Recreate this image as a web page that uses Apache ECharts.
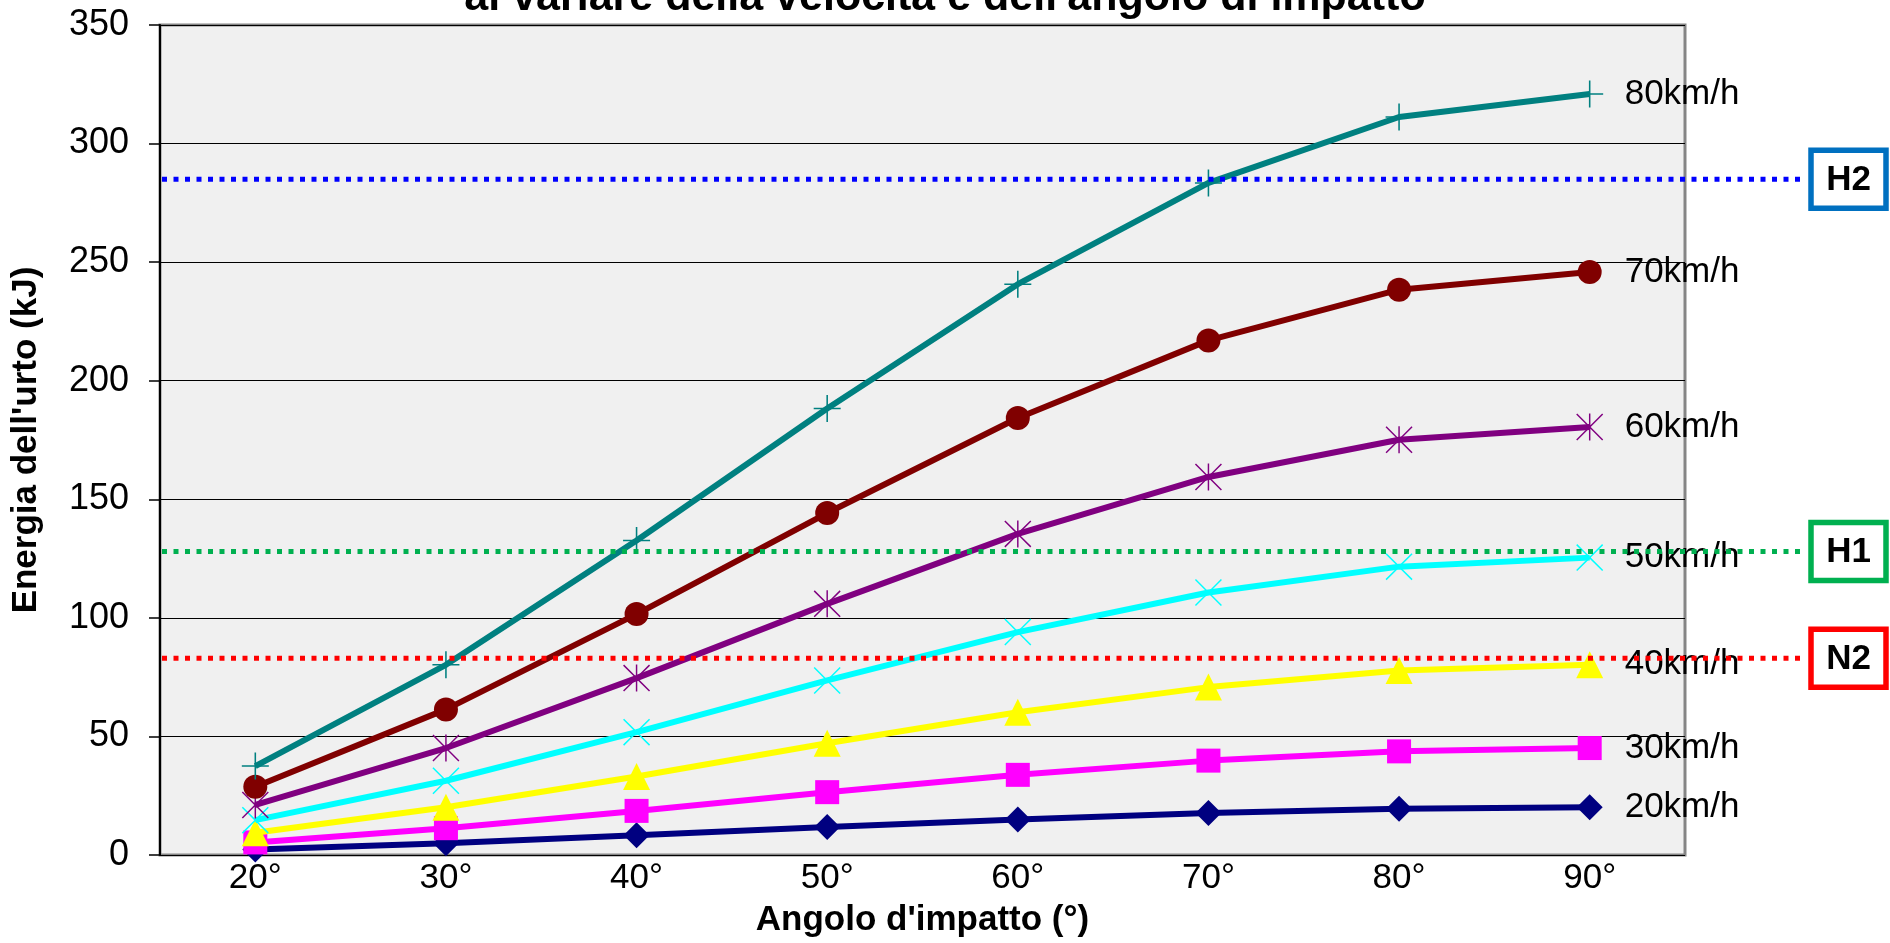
<!DOCTYPE html>
<html>
<head>
<meta charset="utf-8">
<title>Energia dell'urto</title>
<script src="https://cdn.jsdelivr.net/npm/echarts@6/dist/echarts.min.js"></script>
<style>
  html, body { margin: 0; padding: 0; background: #fff; }
  #chart { width: 1890px; height: 943px; }
</style>
</head>
<body>
<div id="chart"></div>
<script>
// Impact angle categories (x axis)
const angles = ['20°', '30°', '40°', '50°', '60°', '70°', '80°', '90°'];

// Impact energy (kJ) for each speed
const speedNames = ['20km/h', '30km/h', '40km/h', '50km/h', '60km/h', '70km/h', '80km/h'];
const energy20 = [2.3, 5.0, 8.3, 11.8, 15.0, 17.7, 19.5, 20.1];
const energy30 = [5.3, 11.3, 18.6, 26.5, 33.8, 39.8, 43.7, 45.1];
const energy40 = [9.4, 20.1, 33.1, 47.1, 60.2, 70.8, 77.8, 80.2];
const energy50 = [14.7, 31.3, 51.8, 73.6, 94.0, 110.7, 121.6, 125.4];
const energy60 = [21.1, 45.1, 74.6, 105.9, 135.4, 159.4, 175.1, 180.5];
const energy70 = [28.8, 61.4, 101.6, 144.2, 184.3, 217.0, 238.4, 245.8];
const energy80 = [37.5, 80.2, 132.6, 188.3, 240.7, 283.4, 311.2, 320.9];

// Containment levels of the barriers (kJ)
const levelNames = ['H2', 'H1', 'N2'];
const levelValues = [285, 128, 83];

// Y axis ticks
const yMin = 0, yMax = 350, yStep = 50;

const FONT = "'Liberation Sans', Arial, sans-serif";
const GRID = { left: 160, right: 205, top: 25, bottom: 88 };

// Marker shapes drawn as filled outlines
const plusPath = 'path://M12.25,0 L13.75,0 L13.75,12.25 L26,12.25 L26,13.75 L13.75,13.75 L13.75,26 L12.25,26 L12.25,13.75 L0,13.75 L0,12.25 L12.25,12.25 Z';
const crossPath = 'path://M0,1 L1,0 L13,12 L25,0 L26,1 L14,13 L26,25 L25,26 L13,14 L1,26 L0,25 L12,13 Z';
const starPath = crossPath + ' M12.3,0 L13.7,0 L13.7,26 L12.3,26 Z';

const seriesData = [energy20, energy30, energy40, energy50, energy60, energy70, energy80];
const seriesColors = ['#000080', '#FF00FF', '#FFFF00', '#00FFFF', '#800080', '#800000', '#008080'];
const seriesSymbols = ['diamond', 'rect', 'triangle', crossPath, starPath, 'circle', plusPath];
const seriesSymbolSizes = [26, 24, 27, 27, 27, 24, 27];

const chart = echarts.init(document.getElementById('chart'), null, { renderer: 'canvas' });

const series = speedNames.map((name, i) => ({
  name: name,
  type: 'line',
  data: seriesData[i],
  symbol: seriesSymbols[i],
  symbolSize: seriesSymbolSizes[i],
  showSymbol: true,
  showAllSymbol: true,
  color: seriesColors[i],
  lineStyle: { width: 6, color: seriesColors[i] },
  itemStyle: { color: seriesColors[i], borderWidth: 0 },
  endLabel: {
    show: true,
    formatter: name,
    distance: 35,
    color: '#000',
    fontFamily: FONT,
    fontSize: 35
  },
  emphasis: { disabled: true },
  z: 2 + i
}));

chart.setOption({
  animation: false,
  backgroundColor: '#ffffff',
  title: {
    text: "al variare della velocità e dell'angolo di impatto",
    left: 'center',
    top: -28,
    textStyle: { fontFamily: FONT, fontSize: 43, fontWeight: 'bold', color: '#000' }
  },
  grid: {
    left: GRID.left, right: GRID.right, top: GRID.top, bottom: GRID.bottom,
    show: true,
    backgroundColor: '#F0F0F0',
    borderColor: '#858585',
    borderWidth: 3
  },
  xAxis: {
    type: 'category',
    data: angles,
    boundaryGap: true,
    name: "Angolo d'impatto (°)",
    nameLocation: 'middle',
    nameGap: 48,
    nameTextStyle: { fontFamily: FONT, fontSize: 35, fontWeight: 'bold', color: '#000' },
    axisLine: { show: false },
    axisTick: { show: false },
    axisLabel: { fontFamily: FONT, fontSize: 35, color: '#000', margin: 6 },
    splitLine: { show: false }
  },
  yAxis: {
    type: 'value',
    min: yMin,
    max: yMax,
    interval: yStep,
    name: "Energia dell'urto (kJ)",
    nameLocation: 'middle',
    nameGap: 116,
    nameTextStyle: { fontFamily: FONT, fontSize: 35, fontWeight: 'bold', color: '#000' },
    axisLine: { show: true, lineStyle: { color: '#000', width: 2 } },
    axisTick: { show: true, inside: false, length: 11, lineStyle: { color: '#000', width: 1.5 } },
    axisLabel: { fontFamily: FONT, fontSize: 36, color: '#000', margin: 31 },
    splitLine: { show: true, lineStyle: { color: '#000', width: 1.2 } }
  },
  series: series
});

// Dotted containment lines running past the plot, with boxed level names
const levelLineColors = ['#0000FF', '#00B050', '#FF0000'];
const levelBoxColors = ['#0070C0', '#00B050', '#FF0000'];
const lineEndX = 1800;
const boxX = 1811, boxW = 75, boxH = 58;

const graphics = [];
levelValues.forEach((v, i) => {
  const y = chart.convertToPixel({ yAxisIndex: 0 }, v);
  graphics.push({
    type: 'line',
    z: 100,
    shape: { x1: GRID.left + 2, y1: y, x2: lineEndX, y2: y },
    style: { stroke: levelLineColors[i], lineWidth: 5, lineDash: [5, 6.5] }
  });
  graphics.push({
    type: 'rect',
    z: 100,
    shape: { x: boxX, y: y - boxH / 2, width: boxW, height: boxH },
    style: { fill: '#fff', stroke: levelBoxColors[i], lineWidth: 5.5 }
  });
  graphics.push({
    type: 'text',
    z: 101,
    style: {
      text: levelNames[i],
      x: boxX + boxW / 2,
      y: y + 1,
      align: 'center',
      verticalAlign: 'middle',
      font: 'bold 35px ' + FONT,
      fill: '#000'
    }
  });
});

chart.setOption({ graphic: graphics });
</script>
</body>
</html>
